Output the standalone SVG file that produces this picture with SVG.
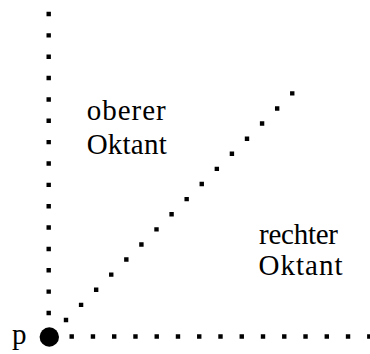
<svg xmlns="http://www.w3.org/2000/svg" width="370" height="354" viewBox="0 0 370 354">
<style>
.dot{fill:none;stroke:#000;stroke-width:4.4;stroke-linecap:square}
.lbl{font-family:"Liberation Serif","Times New Roman",serif;font-size:29px;fill:#000}
</style>
<rect width="370" height="354" fill="#fff"/>
<g id="connectors">
<line class="dot" x1="48.7" y1="14" x2="48.7" y2="313" stroke-dasharray="0 21.357"/>
<line class="dot" x1="71.7" y1="336.5" x2="369.3" y2="336.5" stroke-dasharray="0 21.257"/>
<line class="dot" x1="66" y1="320" x2="292.3" y2="93.3" stroke-dasharray="0 21.35"/>
</g>
<g id="p">
<circle cx="49.3" cy="337" r="9.7" fill="#000"/>
<text class="lbl" x="12" y="343.5">p</text>
</g>
<g id="oberer">
<text class="lbl" x="86.7" y="119.5" textLength="79" lengthAdjust="spacing">oberer</text>
<text class="lbl" x="86.7" y="154" textLength="80" lengthAdjust="spacing">Oktant</text>
</g>
<g id="rechter">
<text class="lbl" x="259" y="243.5" textLength="79" lengthAdjust="spacing">rechter</text>
<text class="lbl" x="258.5" y="275" textLength="84" lengthAdjust="spacing">Oktant</text>
</g>
</svg>
